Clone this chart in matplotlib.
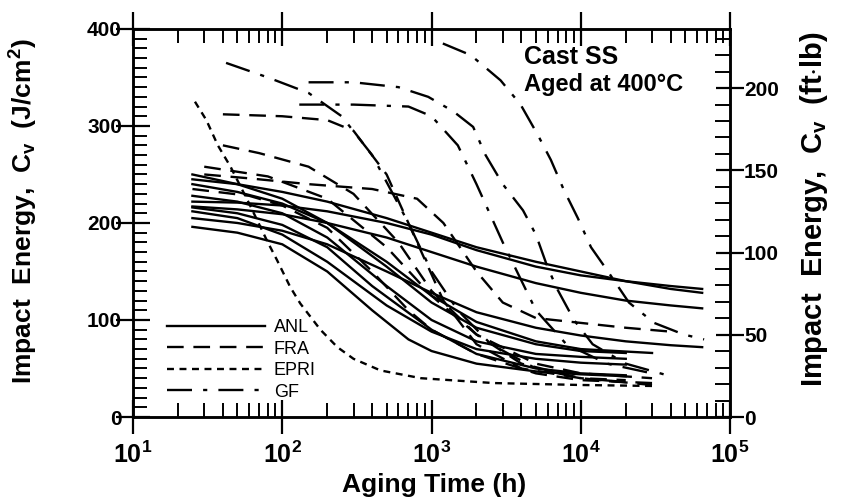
import matplotlib
matplotlib.use("Agg")
import matplotlib.pyplot as plt
from matplotlib.ticker import FixedLocator, MultipleLocator, NullFormatter, FixedFormatter

plt.rcParams['font.family'] = ['Liberation Sans', 'DejaVu Sans']
plt.rcParams['font.weight'] = 'bold'
plt.rcParams['axes.labelweight'] = 'bold'
plt.rcParams['mathtext.fontset'] = 'custom'
plt.rcParams['mathtext.rm'] = 'Liberation Sans:bold'
plt.rcParams['mathtext.bf'] = 'Liberation Sans:bold'
plt.rcParams['mathtext.it'] = 'Liberation Sans:bold'
plt.rcParams['lines.scale_dashes'] = False

# Charpy impact energy (J/cm2) vs aging time (h) at 400 C, one list per heat
anl_curves = [
    [(25, 222), (50, 221), (100, 218), (200, 212), (500, 200), (1000, 188), (2000, 172),
     (5000, 155), (10000, 146), (20000, 140), (40000, 135), (65000, 132)],
    [(25, 245), (50, 240), (100, 232), (200, 222), (500, 205), (1000, 190), (2000, 175),
     (5000, 160), (10000, 150), (20000, 140), (40000, 132), (65000, 128)],
    [(25, 217), (50, 214), (100, 209), (200, 200), (500, 185), (1000, 170), (2000, 155),
     (5000, 138), (10000, 128), (20000, 120), (40000, 115), (65000, 112)],
    [(25, 205), (50, 200), (100, 192), (200, 178), (500, 150), (1000, 128), (2000, 108),
     (5000, 92), (10000, 84), (20000, 78), (40000, 74), (65000, 72)],
    [(25, 250), (50, 240), (100, 225), (200, 200), (500, 155), (1000, 118), (2000, 92),
     (5000, 75), (10000, 68), (20000, 66)],
    [(25, 212), (50, 205), (100, 188), (200, 160), (500, 115), (1000, 88), (2000, 70),
     (5000, 60), (10000, 56), (20000, 54)],
    [(25, 196), (50, 190), (100, 178), (200, 150), (400, 110), (700, 80), (1000, 68),
     (2000, 55), (5000, 47), (10000, 44), (20000, 42)],
    [(25, 228), (50, 222), (100, 210), (200, 185), (500, 135), (1000, 100), (2000, 78),
     (5000, 65), (10000, 62), (20000, 60)],
    [(25, 240), (50, 232), (100, 220), (200, 200), (500, 160), (1000, 125), (2000, 98),
     (5000, 78), (10000, 70), (30000, 66)],
    [(25, 216), (50, 210), (100, 198), (200, 175), (400, 135), (1000, 90), (2000, 65),
     (5000, 50), (10000, 45), (20000, 43)],
]

fra_curves = [
    [(40, 312), (100, 310), (200, 306), (300, 295), (500, 250), (800, 180), (1200, 120),
     (2000, 75), (4000, 50), (10000, 40), (20000, 38)],
    [(40, 280), (70, 272), (150, 258), (300, 230), (600, 180), (1000, 130), (2000, 85),
     (5000, 55), (10000, 45), (30000, 40)],
    [(30, 250), (60, 246), (150, 240), (400, 235), (800, 225), (1200, 200), (2000, 150),
     (3000, 118), (5000, 102), (10000, 97), (20000, 92), (40000, 88)],
    [(25, 235), (60, 228), (100, 218), (200, 195), (400, 150), (700, 110), (1000, 90),
     (2000, 65), (5000, 45), (10000, 38), (30000, 35)],
    [(30, 258), (80, 248), (200, 225), (500, 175), (1000, 125), (2000, 85), (4000, 55),
     (10000, 40), (30000, 33)],
]

epri_curves = [
    [(26, 325), (31, 306), (37, 280), (45, 258), (60, 220), (80, 180), (92, 162),
     (113, 134), (132, 117), (180, 90), (234, 72), (300, 60), (455, 48), (850, 40),
     (2600, 35), (10000, 33), (30000, 32)],
]

gf_curves = [
    [(42, 365), (80, 350), (150, 334), (250, 310), (400, 270), (700, 200), (1000, 150),
     (1500, 110), (2500, 75), (5000, 50), (10000, 40), (20000, 36)],
    [(150, 345), (300, 345), (600, 340), (950, 330), (1400, 315), (1900, 299), (2300, 270),
     (3000, 240), (4100, 213), (5000, 188), (6000, 154), (7000, 131), (9000, 100),
     (12000, 75), (20000, 55), (40000, 42)],
    [(1190, 385), (1830, 373), (2900, 347), (3950, 322), (5140, 291), (6300, 265),
     (7700, 234), (9550, 205), (11700, 175), (15200, 150), (21000, 118), (31000, 97),
     (49000, 85), (67000, 80)],
    [(130, 322), (300, 322), (700, 320), (1000, 310), (1500, 280), (2000, 240),
     (3000, 180), (5000, 110), (8000, 75), (15000, 55), (30000, 45)],
]

styles = {
    'ANL': dict(ls='-'),
    'FRA': dict(dashes=(12, 7)),
    'EPRI': dict(dashes=(5, 4)),
    'GF': dict(dashes=(18, 8, 3, 8)),
}
groups = [('ANL', anl_curves), ('FRA', fra_curves), ('EPRI', epri_curves), ('GF', gf_curves)]

fig = plt.figure(figsize=(8.56, 5.04), dpi=100)
ax = fig.add_axes([0.1554, 0.1726, 0.6975, 0.77])

for name, curves in groups:
    for i, curve in enumerate(curves):
        hours = [p[0] for p in curve]
        cv = [p[1] for p in curve]
        ax.plot(hours, cv, color='black', lw=1.7, label=name if i == 0 else None,
                **styles[name])

ax.set_xscale('log')
ax.set_xlim(10, 1e5)
ax.set_ylim(0, 400)

ax.xaxis.set_major_locator(FixedLocator([1e1, 1e2, 1e3, 1e4, 1e5]))
ax.xaxis.set_major_formatter(FixedFormatter([r'$\mathbf{10^{%d}}$' % k for k in range(1, 6)]))
ax.xaxis.set_minor_locator(FixedLocator([m * 10 ** k for k in range(1, 5) for m in range(2, 10)]))
ax.xaxis.set_minor_formatter(NullFormatter())
ax.yaxis.set_major_locator(MultipleLocator(100))
ax.yaxis.set_minor_locator(MultipleLocator(10))

ax.tick_params(which='major', direction='inout', length=24, width=1.6,
               top=True, right=False, labelsize=15, pad=-4)
ax.tick_params(axis='x', which='major', labelsize=18, pad=6)
ax.tick_params(which='minor', direction='in', length=10, width=1.4, top=True, right=False)
for s in ax.spines.values():
    s.set_linewidth(1.8)

# right-hand scale in ft-lb (1 ft-lb = 1.695 J/cm2 on a 0.8 cm2 Charpy section)
ax2 = ax.twinx()
ax2.set_ylim(0, 400 / 1.695)
ax2.yaxis.set_major_locator(MultipleLocator(50))
ax2.yaxis.set_minor_locator(MultipleLocator(10))
ax2.tick_params(which='major', direction='inout', length=20, width=1.6, labelsize=15, pad=0)
ax2.tick_params(which='minor', direction='in', length=11, width=1.4)
for s in ax2.spines.values():
    s.set_linewidth(1.8)

ax.set_ylabel(r'Impact  Energy,  C$_{\mathbf{v}}$  (J/cm$^{\mathbf{2}}$)', fontsize=19)
ax.yaxis.set_label_coords(-0.155, 0.53)
ax2.set_ylabel(r'Impact  Energy,  C$_{\mathbf{v}}$  (ft$\cdot$lb)', fontsize=21)
ax2.yaxis.set_label_coords(1.113, 0.535)
ax.set_xlabel('Aging Time (h)', fontsize=19)
ax.xaxis.set_label_coords(0.505, -0.145)

ax.text(0.655, 0.928, 'Cast SS', transform=ax.transAxes, fontsize=18, ha='left', va='center')
ax.text(0.655, 0.858, 'Aged at 400\u00b0C', transform=ax.transAxes, fontsize=17,
        ha='left', va='center')

leg = ax.legend(loc='lower left', bbox_to_anchor=(0.03, 0.0), frameon=False,
                handlelength=5.4, handletextpad=0.5, labelspacing=0.25,
                prop=dict(family=['Liberation Sans Narrow', 'Liberation Sans'],
                          weight='normal', size=13))

fig.savefig('out.png', dpi=100)
